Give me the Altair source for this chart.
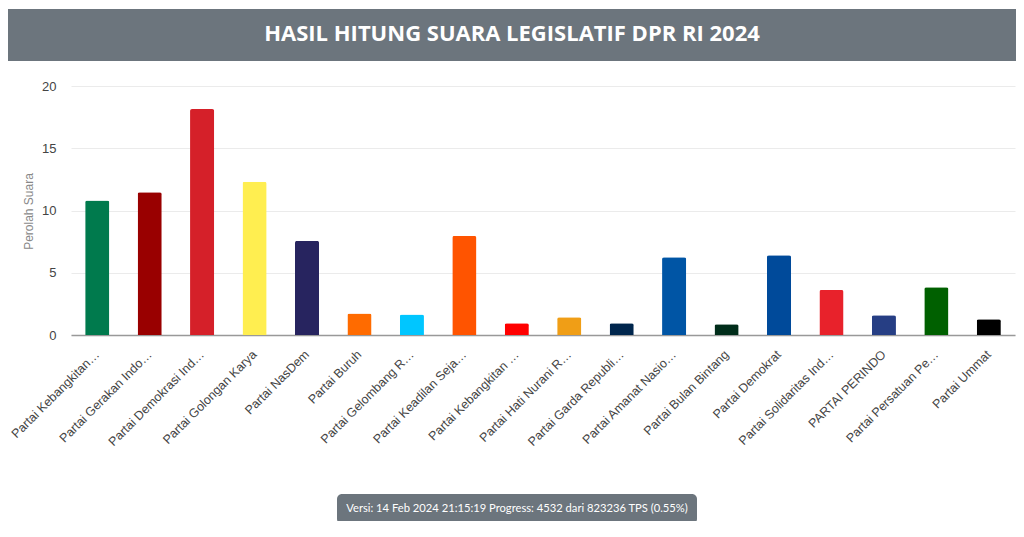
import altair as alt
import pandas as pd

parties = [
    "Partai Kebangkitan…", "Partai Gerakan Indo…", "Partai Demokrasi Ind…",
    "Partai Golongan Karya", "Partai NasDem", "Partai Buruh",
    "Partai Gelombang R…", "Partai Keadilan Seja…", "Partai Kebangkitan …",
    "Partai Hati Nurani R…", "Partai Garda Republi…", "Partai Amanat Nasio…",
    "Partai Bulan Bintang", "Partai Demokrat", "Partai Solidaritas Ind…",
    "PARTAI PERINDO", "Partai Persatuan Pe…", "Partai Ummat",
]
votes = [10.8, 11.46, 18.15, 12.3, 7.56, 1.72, 1.64, 7.96, 0.95, 1.43,
         0.95, 6.25, 0.87, 6.41, 3.62, 1.58, 3.84, 1.27]
colors = ["#007A4D", "#990000", "#D52029", "#FFEE50", "#27245F", "#FF6B00",
          "#00C6FF", "#FF5400", "#FF0000", "#F09E16", "#00264D", "#0055A5",
          "#002D1A", "#004A9A", "#E8222B", "#263E84", "#006000", "#000000"]
y_ticks = [0, 5, 10, 15, 20]

title_text = "HASIL HITUNG SUARA LEGISLATIF DPR RI 2024"
footer_text = "Versi: 14 Feb 2024 21:15:19 Progress: 4532 dari 823236 TPS (0.55%)"
y_title = "Perolah Suara"

df = pd.DataFrame({"partai": parties, "suara": votes, "warna": colors})

bars = alt.Chart(df).mark_bar(cornerRadiusTopLeft=2, cornerRadiusTopRight=2).encode(
    x=alt.X("partai:N", sort=parties,
            scale=alt.Scale(paddingInner=0.54, paddingOuter=0.27),
            axis=alt.Axis(title=None, labelAngle=-45, labelAlign="right",
                          labelBaseline="middle", labelPadding=17, ticks=False,
                          domainColor="#999999", domainWidth=1.5,
                          labelFont="Liberation Sans", labelFontSize=12.5,
                          labelColor="#444444", labelLimit=200, grid=False)),
    y=alt.Y("suara:Q", scale=alt.Scale(domain=[0, 20], nice=False),
            axis=alt.Axis(values=y_ticks, title=y_title, domain=False, ticks=False,
                          labelPadding=15, labelFont="Liberation Sans",
                          labelFontSize=13, labelColor="#444444",
                          gridColor="#ebebeb", titleFont="Liberation Sans",
                          titleFontSize=12, titleFontWeight="normal",
                          titleColor="#888888", titleX=-43, titleY=125,
                          titleAngle=-90, titleAlign="center",
                          titleBaseline="middle")),
    color=alt.Color("warna:N", scale=None),
)

tdf = pd.DataFrame({"t": [title_text]})
band = alt.Chart(tdf).mark_rect(color="#6c757d").encode(
    x=alt.value(-63), x2=alt.value(945), y=alt.value(-77), y2=alt.value(-25))
title = alt.Chart(tdf).mark_text(
    font="Open Sans", fontSize=22, fontWeight="bold", color="white",
    align="center", baseline="middle").encode(
    x=alt.value(441), y=alt.value(-52), text="t:N")

fdf = pd.DataFrame({"t": [footer_text]})
badge = alt.Chart(fdf).mark_rect(color="#6c757d", cornerRadius=5).encode(
    x=alt.value(266), x2=alt.value(626), y=alt.value(408), y2=alt.value(438))
footer = alt.Chart(fdf).mark_text(
    font="Lato", fontSize=11.2, color="white",
    align="center", baseline="middle").encode(
    x=alt.value(446), y=alt.value(423), text="t:N")

chart = alt.layer(band, title, bars, badge, footer).properties(
    width=944, height=249,
    autosize=alt.AutoSizeParams(type="none"),
    padding={"left": 63, "top": 78, "right": 1, "bottom": 186},
).configure_view(stroke=None)

chart.save("out.html", embed_options={"renderer": "svg", "actions": False})
